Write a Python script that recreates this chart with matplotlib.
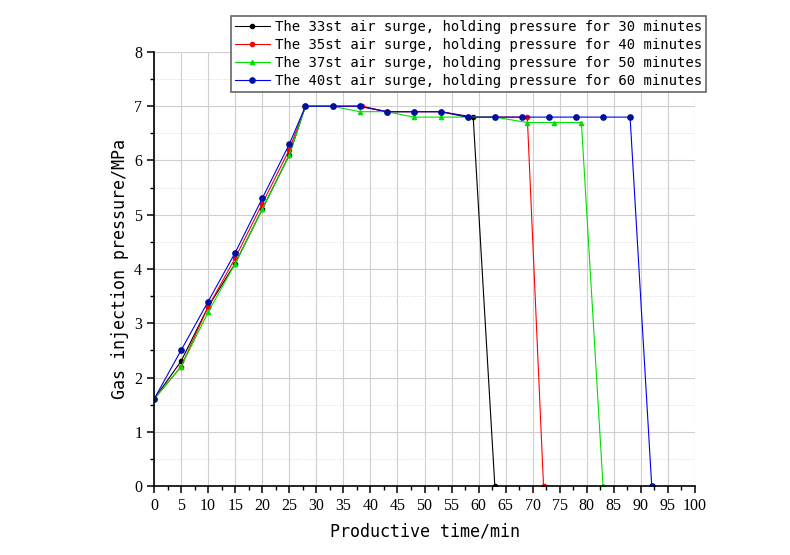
import numpy as np
import matplotlib.pyplot as plt
from matplotlib.ticker import MultipleLocator

# data
t33 = [0, 5, 10, 15, 20, 25, 28, 33, 38, 43, 48, 53, 59, 63]
p33 = [1.6, 2.3, 3.3, 4.1, 5.1, 6.1, 7.0, 7.0, 7.0, 6.9, 6.9, 6.9, 6.8, 0]

t35 = [0, 5, 10, 15, 20, 25, 28, 33, 38.5, 43, 48, 53, 58, 63, 69, 72]
p35 = [1.6, 2.2, 3.3, 4.2, 5.2, 6.2, 7.0, 7.0, 7.0, 6.9, 6.9, 6.9, 6.8, 6.8, 6.8, 0]

t37 = [0, 5, 10, 15, 20, 25, 28, 33, 38, 43, 48, 53, 58, 63, 69, 74, 79, 83]
p37 = [1.6, 2.2, 3.2, 4.1, 5.1, 6.1, 7.0, 7.0, 6.9, 6.9, 6.8, 6.8, 6.8, 6.8, 6.7, 6.7, 6.7, 0]

t40 = [0, 5, 10, 15, 20, 25, 28, 33, 38, 43, 48, 53, 58, 63, 68, 73, 78, 83, 88, 92]
p40 = [1.6, 2.5, 3.4, 4.3, 5.3, 6.3, 7.0, 7.0, 7.0, 6.9, 6.9, 6.9, 6.8, 6.8, 6.8, 6.8, 6.8, 6.8, 6.8, 0]

labels = ["The 33st air surge, holding pressure for 30 minutes",
          "The 35st air surge, holding pressure for 40 minutes",
          "The 37st air surge, holding pressure for 50 minutes",
          "The 40st air surge, holding pressure for 60 minutes"]

fig = plt.figure(figsize=(7.9, 5.55), dpi=100)
ax = fig.add_axes([154/790, (555-486)/555, (695-154)/790, (486-52)/555])

ax.plot(t33, p33, color='black', marker='o', ms=3, lw=0.8, label=labels[0])
ax.plot(t35, p35, color='red', marker='o', ms=3, lw=0.8, label=labels[1])
ax.plot(t37, p37, color='#00e000', marker='^', ms=3, lw=0.8, label=labels[2])
ax.plot(t40, p40, color='#0000ee', marker='o', ms=3.8, lw=0.8,
        mfc='#0010a0', mec='#0010a0', label=labels[3])

ax.set_xlim(0, 100)
ax.set_ylim(0, 8)
ax.xaxis.set_major_locator(MultipleLocator(5))
ax.xaxis.set_minor_locator(MultipleLocator(2.5))
ax.yaxis.set_major_locator(MultipleLocator(1))
ax.yaxis.set_minor_locator(MultipleLocator(0.5))
ax.grid(which='major', color='#cfcfcf', lw=0.8, ls='-')
ax.grid(which='minor', axis='y', color='#d8d8d8', lw=0.7, ls=':')
ax.set_axisbelow(True)

for s in ['top', 'right']:
    ax.spines[s].set_visible(False)
for s in ['left', 'bottom']:
    ax.spines[s].set_linewidth(1.2)

ax.tick_params(which='major', direction='out', length=5, width=1.1,
               labelsize=11.5)
ax.tick_params(which='minor', direction='out', length=3, width=1)
for lab in ax.get_xticklabels() + ax.get_yticklabels():
    lab.set_family('Liberation Serif')

ax.set_xlabel('Productive time/min', family='DejaVu Sans Mono', fontsize=12, labelpad=6)
ax.set_ylabel('Gas injection pressure/MPa', family='DejaVu Sans Mono', fontsize=12, labelpad=4)

leg = ax.legend(loc='upper right', bbox_to_anchor=(1.033, 1.1), fancybox=False,
                edgecolor='#666666', framealpha=1, handlelength=2.5,
                handletextpad=0.35, borderpad=0.3, labelspacing=0.3,
                prop={'family': 'DejaVu Sans Mono', 'size': 10})
leg.get_frame().set_linewidth(1.2)

fig.savefig('out.png', dpi=100)
